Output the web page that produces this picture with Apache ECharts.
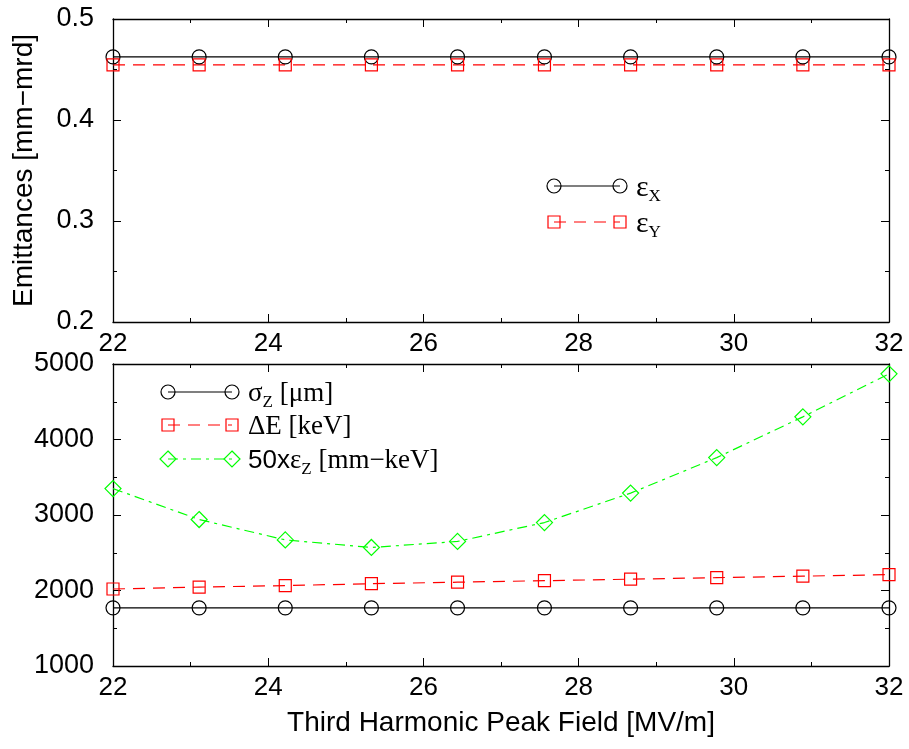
<!DOCTYPE html>
<html>
<head>
<meta charset="utf-8">
<script src="https://cdn.jsdelivr.net/npm/echarts@6/dist/echarts.min.js"></script>
<style>
html,body{margin:0;padding:0;background:#fff;}
#chart{width:909px;height:749px;}
</style>
</head>
<body>
<div id="chart"></div>
<script>
// ---- data ----
var fieldValues = [22, 23.11, 24.22, 25.33, 26.44, 27.56, 28.67, 29.78, 30.89, 32];
var emitX = [0.4625, 0.4625, 0.4625, 0.4625, 0.4625, 0.4625, 0.4625, 0.4625, 0.4625, 0.4625];
var emitY = [0.4545, 0.4545, 0.4545, 0.4545, 0.4545, 0.4545, 0.4545, 0.4545, 0.4545, 0.4545];
var sigmaZ = [1770, 1770, 1770, 1770, 1770, 1770, 1770, 1770, 1770, 1770];
var deltaE = [2020, 2045, 2065, 2090, 2110, 2130, 2150, 2170, 2190, 2210];
var emitZ50 = [3350, 2940, 2670, 2570, 2650, 2900, 3290, 3760, 4300, 4870];
var xTicks = [22, 24, 26, 28, 30, 32];
var topYTicks = [0.2, 0.3, 0.4, 0.5];
var botYTicks = [1000, 2000, 3000, 4000, 5000];

function pairs(xs, ys) { return xs.map(function (x, i) { return [x, ys[i]]; }); }

var chart = echarts.init(document.getElementById('chart'), null, {renderer: 'canvas'});
var FONT = "'Liberation Sans', Arial, Helvetica, sans-serif";
var SERIF = "'Liberation Serif', 'Times New Roman', serif";
var GREEN = '#00ff00';

function xAxisDef(grid, pos, showLabels, name) {
  return {
    type: 'value', gridIndex: grid, position: pos, min: 22, max: 32, interval: 2,
    axisLine: {show: true, onZero: false, lineStyle: {color: '#000', width: 1.3}},
    axisTick: {show: true, inside: true, length: 8, lineStyle: {color: '#000', width: 1}},
    minorTick: {show: true, splitNumber: 2, length: 4, lineStyle: {color: '#000', width: 1}},
    splitLine: {show: false},
    axisLabel: {show: showLabels, color: '#000', fontSize: 26, fontFamily: FONT, margin: 9,
      formatter: function (v) { return xTicks.indexOf(v) >= 0 ? String(v) : ''; }},
    name: name || '', nameLocation: 'middle', nameGap: 43,
    nameTextStyle: {color: '#000', fontSize: 28, fontFamily: FONT}
  };
}
function yAxisDef(grid, pos, showLabels, min, max, interval, ticks, name) {
  return {
    type: 'value', gridIndex: grid, position: pos, min: min, max: max, interval: interval,
    axisLine: {show: true, onZero: false, lineStyle: {color: '#000', width: 1.3}},
    axisTick: {show: true, inside: true, length: 8, lineStyle: {color: '#000', width: 1}},
    minorTick: {show: true, splitNumber: 2, length: 4, lineStyle: {color: '#000', width: 1}},
    splitLine: {show: false},
    axisLabel: {show: showLabels, color: '#000', fontSize: 27, fontFamily: FONT, margin: 19,
      formatter: function (v) {
        for (var i = 0; i < ticks.length; i++) { if (Math.abs(ticks[i] - v) < 1e-9) return String(ticks[i]); }
        return '';
      }},
    name: name || '', nameLocation: 'middle', nameGap: 75,
    nameTextStyle: {color: '#000', fontSize: 28, fontFamily: FONT}
  };
}

function lineSeries(xi, yi, data, color, symbol, size, dash) {
  return {
    type: 'line', xAxisIndex: xi, yAxisIndex: yi, data: data,
    symbol: symbol, symbolSize: size, showSymbol: true, animation: false, clip: false,
    itemStyle: {color: 'rgba(0,0,0,0)', borderColor: color, borderWidth: 1.2},
    lineStyle: {color: color, width: 1.2, type: dash},
    emphasis: {disabled: true}
  };
}

var legendLine = function (x1, x2, y, color, dash, sym) {
  var els = [{type: 'line', shape: {x1: x1, y1: y, x2: x2, y2: y},
    style: {stroke: color, lineWidth: 1.2, lineDash: dash}}];
  [x1, x2].forEach(function (cx) {
    if (sym === 'circle') els.push({type: 'circle', shape: {cx: cx, cy: y, r: 7}, style: {fill: 'none', stroke: color, lineWidth: 1.2}});
    if (sym === 'rect') els.push({type: 'rect', shape: {x: cx - 6, y: y - 6, width: 12, height: 12}, style: {fill: 'none', stroke: color, lineWidth: 1.2}});
    if (sym === 'diamond') els.push({type: 'polygon', shape: {points: [[cx, y - 8], [cx + 8, y], [cx, y + 8], [cx - 8, y]]}, style: {fill: 'none', stroke: color, lineWidth: 1.2}});
  });
  return els;
};
var richStyle = {
  m: {fontFamily: SERIF, fontSize: 27, color: '#000', lineHeight: 34, verticalAlign: 'middle'},
  e: {fontFamily: SERIF, fontSize: 30, color: '#000', lineHeight: 34, verticalAlign: 'middle'},
  h: {fontFamily: FONT, fontSize: 26, color: '#000', lineHeight: 34, verticalAlign: 'middle'},
  s: {fontFamily: SERIF, fontSize: 17, color: '#000', lineHeight: 34, verticalAlign: 'bottom'}
};
function legendText(x, y, str) {
  return {type: 'text', x: x, y: y, style: {text: str, rich: richStyle, verticalAlign: 'middle', align: 'left', font: '26px ' + SERIF}};
}

var graphics = [];
graphics = graphics.concat(legendLine(554, 620, 186, '#000', null, 'circle'));
graphics.push(legendText(636, 188, '{e|ε}{s|X}'));
graphics = graphics.concat(legendLine(554, 620, 222, '#ff0000', [12, 8], 'rect'));
graphics.push(legendText(636, 224, '{e|ε}{s|Y}'));
graphics = graphics.concat(legendLine(168, 232, 392, '#000', null, 'circle'));
graphics.push(legendText(248, 394, '{m|σ}{s|Z}{m| [μm]}'));
graphics = graphics.concat(legendLine(168, 232, 425, '#ff0000', [12, 8], 'rect'));
graphics.push(legendText(248, 427, '{m|ΔE [keV]}'));
graphics = graphics.concat(legendLine(168, 232, 459, GREEN, [10, 5, 3, 5], 'diamond'));
graphics.push(legendText(248, 461, '{h|50x}{m|ε}{s|Z}{m| [mm−keV]}'));

chart.setOption({
  animation: false,
  backgroundColor: '#fff',
  grid: [
    {left: 113, top: 19, width: 776, height: 303},
    {left: 113, top: 364, width: 776, height: 302}
  ],
  xAxis: [
    xAxisDef(0, 'bottom', true),
    xAxisDef(0, 'top', false),
    xAxisDef(1, 'bottom', true, 'Third Harmonic Peak Field [MV/m]'),
    xAxisDef(1, 'top', false)
  ],
  yAxis: [
    yAxisDef(0, 'left', true, 0.2, 0.5, 0.1, topYTicks, 'Emittances [mm−mrd]'),
    yAxisDef(0, 'right', false, 0.2, 0.5, 0.1, topYTicks),
    yAxisDef(1, 'left', true, 1000, 5000, 1000, botYTicks),
    yAxisDef(1, 'right', false, 1000, 5000, 1000, botYTicks)
  ],
  series: [
    lineSeries(0, 0, pairs(fieldValues, emitX), '#000', 'circle', 14, 'solid'),
    lineSeries(0, 0, pairs(fieldValues, emitY), '#ff0000', 'rect', 12, [12, 8]),
    lineSeries(2, 2, pairs(fieldValues, sigmaZ), '#000', 'circle', 14, 'solid'),
    lineSeries(2, 2, pairs(fieldValues, deltaE), '#ff0000', 'rect', 12, [12, 8]),
    lineSeries(2, 2, pairs(fieldValues, emitZ50), GREEN, 'diamond', 16, [10, 5, 3, 5])
  ],
  graphic: graphics
});
</script>
</body>
</html>
